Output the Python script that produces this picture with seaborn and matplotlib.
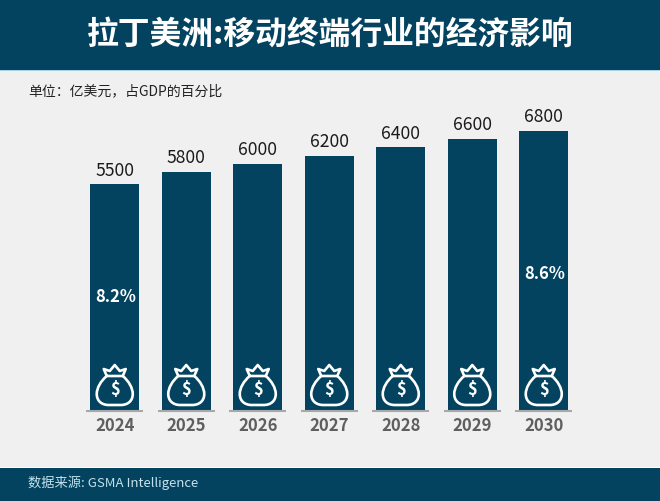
import matplotlib
matplotlib.use("Agg")
import matplotlib.pyplot as plt
import pandas as pd
import seaborn as sns
from matplotlib.patches import PathPatch, Rectangle
from matplotlib.path import Path

years = ["2024", "2025", "2026", "2027", "2028", "2029", "2030"]
values = [5500, 5800, 6000, 6200, 6400, 6600, 6800]
share_years = ["2024", "2030"]
share_labels = ["8.2%", "8.6%"]

title = "拉丁美洲:移动终端行业的经济影响"
unit_text = "单位\uff1a亿美元\uff0c占GDP的百分比"
source_text = "数据来源: GSMA Intelligence"

navy = "#03435f"
paper = "#f0f0f0"

sns.set_theme(style="white")
plt.rcParams["font.family"] = ["Noto Sans CJK SC", "DejaVu Sans"]

W, H = 660, 501
fig = plt.figure(figsize=(W / 100, H / 100), dpi=100, facecolor=paper)

# overlay in pixel coordinates for header, footer and icons
bg = fig.add_axes([0, 0, 1, 1])
bg.set_xlim(0, W)
bg.set_ylim(H, 0)
bg.axis("off")
bg.add_patch(Rectangle((0, 0), W, 70, color=navy, lw=0))
bg.add_patch(Rectangle((0, 70), W, 1.2, color="#a9d3e3", lw=0))
bg.add_patch(Rectangle((0, 468), W, 33, color=navy, lw=0))
bg.add_patch(Rectangle((0, 466.5), W, 1.5, color="#ffffff", lw=0))
bg.text(330, 35, title, color="white", fontsize=22.9, fontweight="bold", ha="center", va="center")
bg.text(28, 91, unit_text, color="#222222", fontsize=10, fontweight="medium", ha="left", va="center")
bg.text(28, 482.5, source_text, color="#c4e2ee", fontsize=9.5, ha="left", va="center")

df = pd.DataFrame({"year": years, "value": values})
ax = fig.add_axes([79 / W, (H - 410.5) / H, 500.5 / W, 308.25 / H], facecolor="none")
sns.barplot(data=df, x="year", y="value", color=navy, saturation=1, width=0.685, linewidth=0, ax=ax)
ax.set_xlim(-0.5, 6.5)
ax.set_ylim(0, 7500)
ax.set_xlabel("")
ax.set_ylabel("")
ax.set_yticks([])
sns.despine(ax=ax, left=True, bottom=True)
ax.tick_params(axis="x", length=0, pad=5, labelsize=12, labelcolor="#5f5f5f")
for lab in ax.get_xticklabels():
    lab.set_fontweight("bold")

ax.bar_label(ax.containers[0], labels=[str(v) for v in values], padding=3.5, fontsize=12.6, color="#1a1a1a")

# grey foot under each bar
for i in range(len(years)):
    ax.plot([i - 0.4, i + 0.4], [0, 0], color="#a8a8a8", lw=1.5, clip_on=False, solid_capstyle="butt")

for y, lab in zip(share_years, share_labels):
    i = years.index(y)
    frac = 0.5 if y == "2024" else 0.488
    ax.text(i + 0.015, values[i] * frac, lab, color="white", fontsize=12, fontweight="bold", ha="center", va="center")


def money_bag(cx):
    # pixel coordinates relative to the bar centre
    M, L, C = Path.MOVETO, Path.LINETO, Path.CURVE4
    body = [(-8, 11), (-14, 16), (-18, 23), (-18, 29), (-18, 36), (-13, 40), (-6, 40),
            (6, 40), (13, 40), (18, 36), (18, 29), (18, 23), (14, 16), (8, 11)]
    body_codes = [M, C, C, C, C, C, C, L, C, C, C, C, C, C]
    crown = [(-8, 11), (-11, 4), (-5, 6), (0, 0), (5, 6), (11, 4), (8, 11), (-8, 11)]
    crown_codes = [M, L, L, L, L, L, L, L]
    for pts, codes in ((body, body_codes), (crown, crown_codes)):
        verts = [(cx + dx, 365 + dy) for dx, dy in pts]
        bg_top.add_patch(PathPatch(Path(verts, codes), fc="none", ec="white", lw=1.9, joinstyle="round"))
    bg_top.text(cx, 390, "$", color="white", fontsize=12, fontweight="black", ha="center", va="center")


bg_top = fig.add_axes([0, 0, 1, 1], facecolor="none")
bg_top.set_xlim(0, W)
bg_top.set_ylim(H, 0)
bg_top.axis("off")
for i in range(len(years)):
    px = ax.transData.transform((i, 0))[0]
    money_bag(px)

fig.savefig("out.png", dpi=100, facecolor=paper)
plt.close(fig)
